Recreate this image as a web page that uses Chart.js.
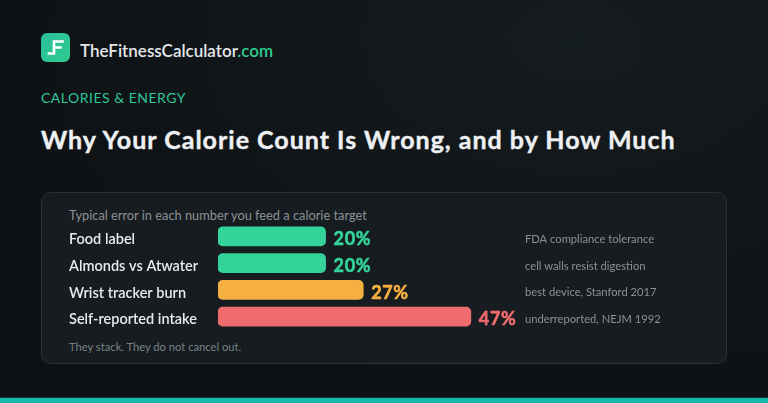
<!DOCTYPE html>
<html>
<head>
<meta charset="utf-8">
<script src="https://cdn.jsdelivr.net/npm/chart.js@4"></script>
<style>
  html, body { margin: 0; padding: 0; }
  body {
    width: 768px; height: 403px; position: relative; overflow: hidden;
    background: radial-gradient(ellipse at 75% 10%, #151c1e 0%, #0f1316 60%, #0d1114 100%);
    font-family: Lato, "Noto Sans", sans-serif;
  }
  .abs { position: absolute; white-space: nowrap; }
  .logo { left: 41px; top: 33px; width: 29px; height: 29px; border-radius: 6px;
    background: linear-gradient(135deg, #2bbf9c, #2ecb8c); }
  .brand { left: 80px; top: 40px; font-size: 17px; font-weight: 600; color: #e4e7ea; line-height: 22px; }
  .brand span { color: #2ecc8f; }
  .kicker { left: 41px; top: 89px; font-size: 14px; letter-spacing: 0.5px; color: #2ec79a; line-height: 18px; }
  .title { left: 41px; top: 124px; font-size: 25px; font-weight: 700; letter-spacing: 1px; color: #eef0f2; line-height: 30px;
    -webkit-text-stroke: 0.4px #eef0f2; }
  .card { left: 41px; top: 192px; width: 684px; height: 170px; border: 1px solid #2a3236;
    border-radius: 10px; background: #161c1f; }
  .sub { left: 69px; top: 207px; font-size: 12.8px; color: #8b9297; line-height: 17px; }
  .foot { left: 69px; top: 339px; font-size: 11.2px; color: #7a8287; line-height: 15px; }
  .chartbox { left: 41px; top: 223px; width: 686px; height: 107px; }
  .band { left: 0; bottom: 0; width: 768px; height: 5px; background: #16b9a7; border-top: 1px solid #0f3d3a; }
</style>
</head>
<body>
<div class="abs logo">
  <svg width="29" height="29" viewBox="0 0 29 29">
    <path d="M8 20.5 H13 V8.5 H21.5 M13 14.5 H19.5" fill="none" stroke="#ffffff" stroke-width="2.6" stroke-linecap="square"/>
  </svg>
</div>
<div class="abs brand">TheFitnessCalculator<span>.com</span></div>
<div class="abs kicker">CALORIES &amp; ENERGY</div>
<div class="abs title">Why Your Calorie Count Is Wrong, and by How Much</div>
<div class="abs card"></div>
<div class="abs sub">Typical error in each number you feed a calorie target</div>
<div class="abs foot">They stack. They do not cancel out.</div>
<div class="abs chartbox"><canvas id="chart"></canvas></div>
<div class="abs band"></div>

<script>
var categories = ["Food label", "Almonds vs Atwater", "Wrist tracker burn", "Self-reported intake"];
var errorPct = [20, 20, 27, 47];
var notes = ["FDA compliance tolerance", "cell walls resist digestion", "best device, Stanford 2017", "underreported, NEJM 1992"];
var barColors = ["#34d399", "#34d399", "#f5b041", "#f06b6e"];

var rowText = {
  id: "rowText",
  afterDatasetsDraw: function(chart) {
    var c = chart.ctx;
    var meta = chart.getDatasetMeta(0);
    c.save();
    c.textBaseline = "middle";
    meta.data.forEach(function(bar, i) {
      var y = bar.y + 3;
      c.textAlign = "left";
      c.letterSpacing = "0px";
      c.font = "600 14.5px Lato, 'Noto Sans', sans-serif";
      c.fillStyle = "#e8eaed";
      c.fillText(categories[i], 28, y);
      c.font = "700 18px Lato, 'Noto Sans', sans-serif";
      c.letterSpacing = "0.6px";
      c.fillStyle = barColors[i];
      c.strokeStyle = barColors[i];
      c.lineWidth = 0.6;
      c.fillText(errorPct[i] + "%", bar.x + 8, y);
      c.strokeText(errorPct[i] + "%", bar.x + 8, y);
      c.letterSpacing = "0px";
      c.font = "11.2px Lato, 'Noto Sans', sans-serif";
      c.fillStyle = "#8b9297";
      c.fillText(notes[i], 484, y);
    });
    c.restore();
  }
};

new Chart(document.getElementById("chart"), {
  type: "bar",
  data: {
    labels: categories,
    datasets: [{
      data: errorPct,
      backgroundColor: barColors,
      borderRadius: 5,
      borderSkipped: false,
      barThickness: 19
    }]
  },
  options: {
    indexAxis: "y",
    responsive: true,
    maintainAspectRatio: false,
    animation: false,
    layout: { padding: { left: 177, right: 240, top: 0, bottom: 0 } },
    scales: {
      x: { display: false, min: 0, max: 50 },
      y: { display: false }
    },
    plugins: { legend: { display: false }, tooltip: { enabled: false } }
  },
  plugins: [rowText]
});
</script>
</body>
</html>
